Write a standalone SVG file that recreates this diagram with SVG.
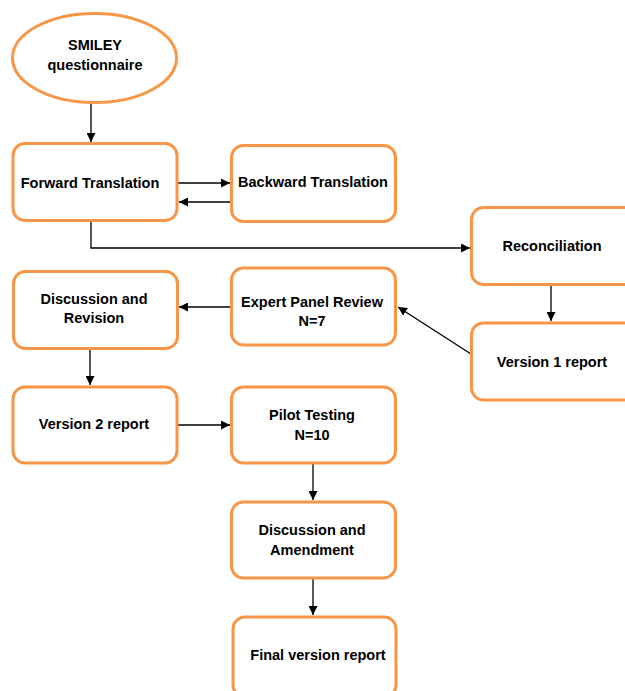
<svg xmlns="http://www.w3.org/2000/svg" width="625" height="691" viewBox="0 0 625 691">
<style>
.box{fill:#fff;stroke:#F79646;stroke-width:3}
.t{font-family:"Liberation Sans",Arial,sans-serif;font-weight:bold;font-size:14.5px;fill:#000;text-anchor:middle}
.c{stroke:#000;stroke-width:1.3;fill:none}
</style>
<defs>
<marker id="ah" viewBox="0 0 10 10" refX="10" refY="5" markerWidth="9" markerHeight="9" markerUnits="userSpaceOnUse" orient="auto">
<path d="M0,0 L10,5 L0,10 Z" fill="#000"/>
</marker>
</defs>
<rect width="625" height="691" fill="#fff"/>
<g id="connectors">
<line class="c" x1="91" y1="104" x2="91" y2="142" marker-end="url(#ah)"/>
<line class="c" x1="178" y1="183" x2="230" y2="183" marker-end="url(#ah)"/>
<line class="c" x1="231" y1="202" x2="179" y2="202" marker-end="url(#ah)"/>
<polyline class="c" points="91,222 91,248 470,248" marker-end="url(#ah)"/>
<line class="c" x1="551" y1="286" x2="551" y2="321" marker-end="url(#ah)"/>
<line class="c" x1="471" y1="354" x2="398" y2="307" marker-end="url(#ah)"/>
<line class="c" x1="231" y1="307" x2="179" y2="307" marker-end="url(#ah)"/>
<line class="c" x1="90" y1="350" x2="90" y2="385" marker-end="url(#ah)"/>
<line class="c" x1="178" y1="425" x2="230" y2="425" marker-end="url(#ah)"/>
<line class="c" x1="313" y1="464" x2="313" y2="500" marker-end="url(#ah)"/>
<line class="c" x1="313" y1="579" x2="313" y2="615" marker-end="url(#ah)"/>
</g>
<g id="smiley">
<ellipse class="box" cx="94.5" cy="58" rx="82" ry="44.5"/>
<text class="t" x="95" y="50">SMILEY</text>
<text class="t" x="95" y="70">questionnaire</text>
</g>
<g id="forward">
<rect class="box" x="13" y="143.5" width="164" height="77" rx="12"/>
<text class="t" x="90" y="188">Forward Translation</text>
</g>
<g id="backward">
<rect class="box" x="231.5" y="145.5" width="164" height="76" rx="12"/>
<text class="t" x="313" y="187">Backward Translation</text>
</g>
<g id="reconciliation">
<rect class="box" x="471.5" y="207.5" width="170" height="77" rx="12"/>
<text class="t" x="552" y="251">Reconciliation</text>
</g>
<g id="version1">
<rect class="box" x="471.5" y="323" width="170" height="77" rx="12"/>
<text class="t" x="552" y="367">Version 1 report</text>
</g>
<g id="expert">
<rect class="box" x="231.5" y="268" width="164" height="77" rx="12"/>
<text class="t" x="312" y="307">Expert Panel Review</text>
<text class="t" x="312" y="326">N=7</text>
</g>
<g id="discussion-revision">
<rect class="box" x="13.5" y="271.5" width="164" height="77" rx="12"/>
<text class="t" x="94" y="304">Discussion and</text>
<text class="t" x="94" y="323">Revision</text>
</g>
<g id="version2">
<rect class="box" x="13" y="387" width="164" height="76" rx="12"/>
<text class="t" x="94" y="429">Version 2 report</text>
</g>
<g id="pilot">
<rect class="box" x="231.5" y="387" width="164" height="76" rx="12"/>
<text class="t" x="312" y="420">Pilot Testing</text>
<text class="t" x="312" y="440">N=10</text>
</g>
<g id="discussion-amendment">
<rect class="box" x="231.5" y="502" width="164" height="76" rx="12"/>
<text class="t" x="312" y="535">Discussion and</text>
<text class="t" x="312" y="555">Amendment</text>
</g>
<g id="final">
<rect class="box" x="233" y="617" width="163" height="80" rx="12"/>
<text class="t" x="318" y="660">Final version report</text>
</g>
</svg>
